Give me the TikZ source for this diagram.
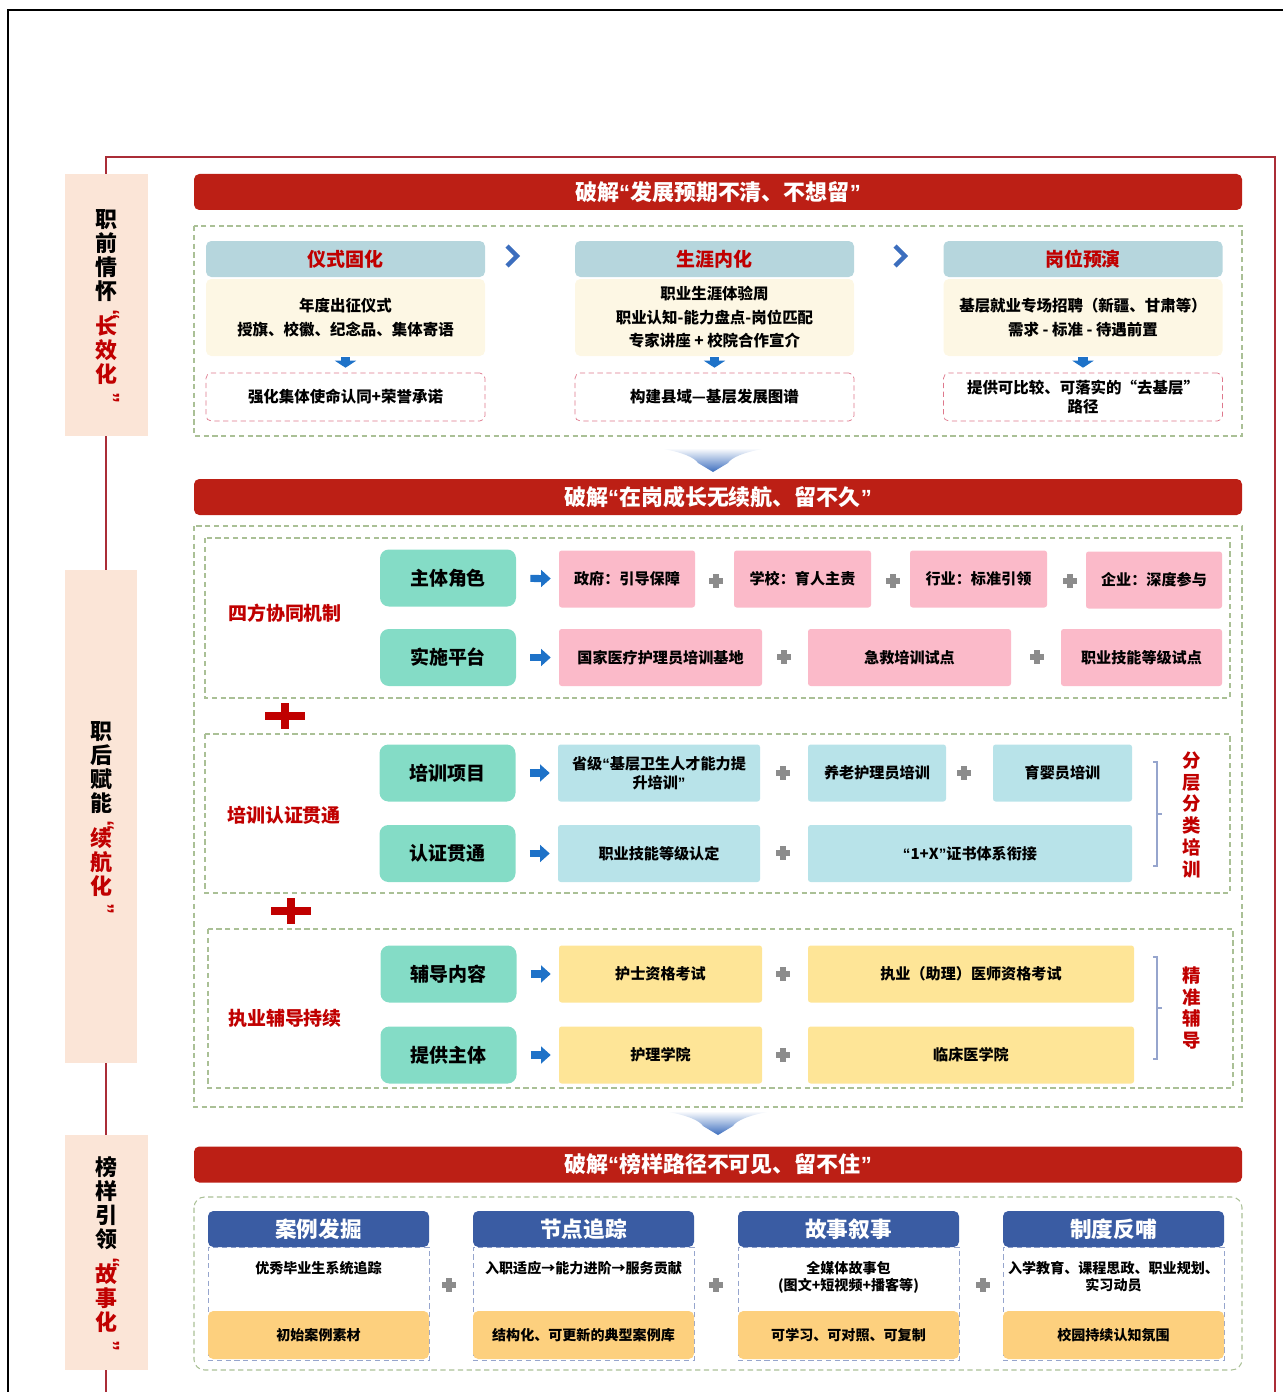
\documentclass[tikz,border=0pt]{standalone}
\usepackage{graphicx}
\usepackage{fontspec}
\setmainfont{Noto Sans CJK SC}
\newfontfamily\quotefont{Liberation Sans}
\usetikzlibrary{arrows.meta}

\definecolor{barred}{RGB}{188,31,21}
\definecolor{peach}{RGB}{251,229,215}
\definecolor{framered}{RGB}{170,45,55}
\definecolor{dashgreen}{RGB}{170,192,150}
\definecolor{headgray}{RGB}{182,214,221}
\definecolor{cream}{RGB}{253,247,228}
\definecolor{labelred}{RGB}{192,0,0}
\definecolor{resultred}{RGB}{222,120,140}
\definecolor{arrowblue}{RGB}{30,114,200}
\definecolor{chevblue}{RGB}{60,110,190}
\definecolor{rolegreen}{RGB}{132,220,198}
\definecolor{rosepink}{RGB}{251,186,201}
\definecolor{iceblue}{RGB}{184,227,233}
\definecolor{wheat}{RGB}{254,229,151}
\definecolor{plusgray}{RGB}{140,140,140}
\definecolor{cardblue}{RGB}{58,92,163}
\definecolor{cardorange}{RGB}{253,208,126}
\definecolor{bracketblue}{RGB}{150,165,205}

\newcommand\fsz[2]{\fontsize{#1pt}{#2pt}\selectfont}
\newcommand\openq{{\quotefont “}}
\newcommand\closeq{{\quotefont ”}}
\newcommand\vquote[1]{\textcolor{labelred}{\raisebox{-3pt}[0pt][0pt]{\hspace{6pt}\rotatebox[origin=c]{-90}{\quotefont #1}}}}

\tikzset{
	wd/.style={minimum width=#1*0.02cm},
	ht/.style={minimum height=#1*0.02cm},
}

\begin{document}
\begin{tikzpicture}[x=0.02cm,y=-0.02cm]

	\tikzstyle title bar=[fill=barred, rounded corners=3pt, text=white, font=\bfseries\fsz{12.5}{15}, wd=1048, ht=36, inner sep=0pt];
	\tikzstyle step head=[fill=headgray, rounded corners=3pt, text=labelred, font=\bfseries\fsz{10.8}{13}, wd=279, ht=36, inner sep=0pt];
	\tikzstyle step body=[fill=cream, rounded corners=3pt, align=center, font=\bfseries\fsz{8.8}{13.4}, wd=279, ht=77, inner sep=0pt];
	\tikzstyle step result=[draw=resultred, densely dashed, rounded corners=3pt, align=center, font=\bfseries\fsz{8.8}{10.4}, wd=279, ht=48, inner sep=0pt];
	\tikzstyle role box=[fill=rolegreen, rounded corners=5pt, font=\bfseries\fsz{10.8}{13}, wd=136, ht=57, inner sep=0pt];
	\tikzstyle item box=[rounded corners=1.5pt, align=center, font=\bfseries\fsz{8.6}{10.8}, ht=57, inner sep=0pt];
	\tikzstyle group label=[text=labelred, font=\bfseries\fsz{10.8}{13}];
	\tikzstyle side label=[text=labelred, align=center, font=\bfseries\fsz{10.5}{12.5}];
	\tikzstyle stage label=[fill=peach, align=center, font=\bfseries\fsz{12.5}{13.6}, inner sep=0pt];
	\tikzstyle flow arrow=[draw=arrowblue, line width=4pt, -{Triangle[length=5.5pt,width=9.5pt]}, shorten <=8pt, shorten >=4.5pt];
	\tikzstyle down arrow=[draw=arrowblue, line width=5.5pt, -{Triangle[length=4pt,width=12pt]}, shorten <=0.6pt, shorten >=2.8pt];
	\tikzstyle plus lines=[plusgray, line width=3pt];
	\tikzstyle cross lines=[labelred, line width=5pt];
	\tikzstyle dash frame=[draw=dashgreen, densely dashed, line width=0.6pt];
	\tikzstyle card head=[fill=cardblue, rounded corners=3pt, text=white, font=\bfseries\fsz{12.3}{14}, wd=221, ht=36, inner sep=0pt];
	\tikzstyle card body=[draw=bracketblue, densely dashed, fill=white, wd=221, ht=113, inner sep=0pt];
	\tikzstyle card text=[align=center, font=\bfseries\fsz{8}{9.6}, inner sep=0pt];
	\tikzstyle card foot=[fill=cardorange, rounded corners=3pt, font=\bfseries\fsz{8}{10}, wd=221, ht=48, inner sep=0pt];

	% page frame
	\useasboundingbox (0,0) rectangle (1283,1392);
	\draw[black, line width=1pt] (8,1392) -- (8,10) -- (1283,10);
	\draw[framered, line width=0.8pt] (106,1392) -- (106,157) -- (1275,157) -- (1275,1392);

	% stage labels
	\node[stage label, wd=83, ht=262] (pre) at (106.5,305) {职\\前\\情\\怀\\[-3.6pt]\vquote{“}\\[-3.6pt]\textcolor{labelred}{长}\\\textcolor{labelred}{效}\\\textcolor{labelred}{化}\\[-3.6pt]\vquote{”}};
	\node[stage label, wd=72, ht=493] (post) at (101,816.5) {职\\后\\赋\\能\\[-3.6pt]\vquote{“}\\[-3.6pt]\textcolor{labelred}{续}\\\textcolor{labelred}{航}\\\textcolor{labelred}{化}\\[-3.6pt]\vquote{”}};
	\node[stage label, wd=83, ht=235] (model) at (106.5,1252.5) {榜\\样\\引\\领\\[-3.6pt]\vquote{“}\\[-3.6pt]\textcolor{labelred}{故}\\\textcolor{labelred}{事}\\\textcolor{labelred}{化}\\[-3.6pt]\vquote{”}};

	% section 1
	\node[title bar] (bar1) at (718,192) {破解\openq 发展预期不清、不想留\closeq};
	\draw[dash frame] (194,226) rectangle (1242,436);

	\node[step head] (ritual) at (345.5,259) {仪式固化};
	\node[step body] (ritualbody) at (345.5,317.5) {年度出征仪式\\授旗、校徽、纪念品、集体寄语};
	\node[step result] (ritualres) at (345.5,397) {强化集体使命认同+荣誉承诺};

	\node[step head] (career) at (714.5,259) {生涯内化};
	\node[step body] (careerbody) at (714.5,317.5) {职业生涯体验周\\职业认知-能力盘点-岗位匹配\\专家讲座 + 校院合作宣介};
	\node[step result] (careerres) at (714.5,397) {构建县域—基层发展图谱};

	\node[step head] (rehearse) at (1083,259) {岗位预演};
	\node[step body] (rehearsebody) at (1083,317.5) {基层就业专场招聘（新疆、甘肃等）\\需求 - 标准 - 待遇前置};
	\node[step result] (rehearseres) at (1083,397) {提供可比较、可落实的“去基层”\\路径};

	\draw[down arrow] (ritualbody) -- (ritualres);
	\draw[down arrow] (careerbody) -- (careerres);
	\draw[down arrow] (rehearsebody) -- (rehearseres);

	\foreach \x in {512,900}
		\draw[chevblue, line width=2.6pt] (\x-5,246) -- (\x+5,256) -- (\x-5,266);

	% transition arrows
	\foreach \x/\y in {713/448,718/1111}
		\shade[top color=white, bottom color=chevblue] (\x-55,\y) -- (\x+55,\y) .. controls (\x+30,\y+4) and (\x+18,\y+10) .. (\x+15,\y+15) -- (\x,\y+24) -- (\x-15,\y+15) .. controls (\x-18,\y+10) and (\x-30,\y+4) .. (\x-55,\y) -- cycle;

	% section 2
	\node[title bar] (bar2) at (718,497) {破解\openq 在岗成长无续航、留不久\closeq};
	\draw[dash frame] (194,526) rectangle (1242,1107);

	\draw[dash frame] (205,538) rectangle (1230,698);
	\node[group label] (coop) at (285,613) {四方协同机制};
	\node[role box] (roles) at (448,578) {主体角色};
	\node[item box, fill=rosepink, wd=136] (gov) at (627,579) {政府：引导保障};
	\node[item box, fill=rosepink, wd=137] (school) at (802.5,579) {学校：育人主责};
	\node[item box, fill=rosepink, wd=137] (trade) at (978.5,579) {行业：标准引领};
	\node[item box, fill=rosepink, wd=136] (firm) at (1154,580) {企业：深度参与};
	\node[role box] (platform) at (448,657.5) {实施平台};
	\node[item box, fill=rosepink, wd=203] (carebase) at (660.5,657.5) {国家医疗护理员培训基地};
	\node[item box, fill=rosepink, wd=203] (firstaid) at (909.5,657.5) {急救培训试点};
	\node[item box, fill=rosepink, wd=161] (skillpilot) at (1141.5,657.5) {职业技能等级试点};
	\draw[flow arrow] (roles) -- (gov);
	\draw[flow arrow] (platform) -- (carebase);

	\draw[dash frame] (205,734) rectangle (1230,893);
	\node[group label] (train) at (284,815) {培训认证贯通};
	\node[role box] (program) at (447.5,773) {培训项目};
	\node[item box, fill=iceblue, wd=202] (province) at (659,773) {省级\openq 基层卫生人才能力提\\升培训\closeq};
	\node[item box, fill=iceblue, wd=138] (eldercare) at (877,773) {养老护理员培训};
	\node[item box, fill=iceblue, wd=139] (infant) at (1062.5,773) {育婴员培训};
	\node[role box] (certify) at (447.5,853.5) {认证贯通};
	\node[item box, fill=iceblue, wd=202] (skilllevel) at (659,853.5) {职业技能等级认定};
	\node[item box, fill=iceblue, wd=324] (onex) at (970,853.5) {\openq 1+X\closeq 证书体系衔接};
	\draw[flow arrow] (program) -- (province);
	\draw[flow arrow] (certify) -- (skilllevel);
	\node[side label] (layered) at (1192,815) {分\\层\\分\\类\\培\\训};

	\draw[dash frame] (208,929) rectangle (1233,1088);
	\node[group label] (coach) at (285,1018) {执业辅导持续};
	\node[role box] (content) at (448.5,974) {辅导内容};
	\node[item box, fill=wheat, wd=203] (nurseexam) at (660.5,974) {护士资格考试};
	\node[item box, fill=wheat, wd=326] (doctorexam) at (971,974) {执业（助理）医师资格考试};
	\node[role box] (provider) at (448.5,1055) {提供主体};
	\node[item box, fill=wheat, wd=203] (nursing) at (660.5,1055) {护理学院};
	\node[item box, fill=wheat, wd=326] (clinical) at (971,1055) {临床医学院};
	\draw[flow arrow] (content) -- (nurseexam);
	\draw[flow arrow] (provider) -- (nursing);
	\node[side label] (precise) at (1192,1008) {精\\准\\辅\\导};

	\foreach \y/\h in {814/52,1008/51}
		\draw[bracketblue, line width=0.8pt] (1153,\y-\h) -- (1157,\y-\h) -- (1157,\y+\h) -- (1153,\y+\h) (1157,\y) -- (1162,\y);

	\foreach \x/\y in {716/581,893/581,1070/581,784/657,1037/657,783/773,964/773,783/853,783/974,783/1055}
		\draw[plus lines] (\x-7,\y) -- (\x+7,\y) (\x,\y-7) -- (\x,\y+7);
	\foreach \x/\y in {285/716,291/911}
		\draw[cross lines] (\x-20,\y) -- (\x+20,\y) (\x,\y-13) -- (\x,\y+13);

	% section 3
	\node[title bar] (bar3) at (718,1164.5) {破解\openq 榜样路径不可见、留不住\closeq};
	\draw[dash frame, rounded corners=6pt] (194,1197) rectangle (1242,1370);

	\node[card body] (minebox) at (318.5,1303.5) {};
	\node[card head] (mine) at (318.5,1229) {案例发掘};
	\node[card text, anchor=north] (minetxt) at (318.5,1261) {优秀毕业生系统追踪};
	\node[card foot] (mineout) at (318.5,1335) {初始案例素材};

	\node[card body] (trackbox) at (583.5,1303.5) {};
	\node[card head] (track) at (583.5,1229) {节点追踪};
	\node[card text, anchor=north] (tracktxt) at (583.5,1261) {入职适应→能力进阶→服务贡献};
	\node[card foot] (trackout) at (583.5,1335) {结构化、可更新的典型案例库};

	\node[card body] (storybox) at (848.5,1303.5) {};
	\node[card head] (story) at (848.5,1229) {故事叙事};
	\node[card text, anchor=north] (storytxt) at (848.5,1261) {全媒体故事包\\(图文+短视频+播客等)};
	\node[card foot] (storyout) at (848.5,1335) {可学习、可对照、可复制};

	\node[card body] (feedbox) at (1113.5,1303.5) {};
	\node[card head] (feed) at (1113.5,1229) {制度反哺};
	\node[card text, anchor=north] (feedtxt) at (1113.5,1261) {入学教育、课程思政、职业规划、\\实习动员};
	\node[card foot] (feedout) at (1113.5,1335) {校园持续认知氛围};

	\foreach \x in {449,716,983}
		\draw[plus lines] (\x-7,1285) -- (\x+7,1285) (\x,1278) -- (\x,1292);

\end{tikzpicture}
\end{document}
